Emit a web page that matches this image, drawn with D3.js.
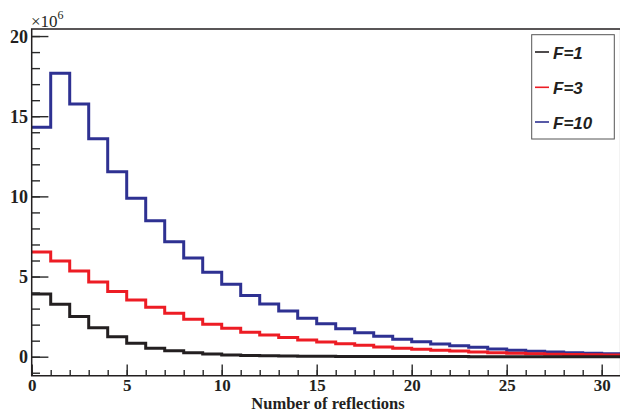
<!DOCTYPE html>
<html>
<head>
<meta charset="utf-8">
<script src="https://cdn.jsdelivr.net/npm/d3@7"></script>
<style>
  body { margin: 0; background: #fff; }
  svg { display: block; }
</style>
</head>
<body>
<div id="chart"></div>
<script>
// histogram bin low edges (width 1)
var binEdges = [0, 1, 2, 3, 4, 5, 6, 7, 8, 9, 10, 11, 12, 13, 14, 15, 16, 17, 18, 19, 20,
  21, 22, 23, 24, 25, 26, 27, 28, 29, 30];

// counts in units of 10^6
var countsF1 = [3.91, 3.27, 2.50, 1.81, 1.25, 0.84, 0.52, 0.37, 0.25, 0.17, 0.11, 0.08, 0.06,
  0.045, 0.035, 0.025, 0.02, 0.015, 0.012, 0.01, 0.008, 0.006, 0.005, 0.004, 0.003, 0.003,
  0.002, 0.002, 0.001, 0.001, 0.001];
var countsF3 = [6.53, 5.97, 5.35, 4.66, 4.06, 3.54, 3.08, 2.71, 2.33, 2.02, 1.77, 1.52, 1.35,
  1.19, 1.04, 0.91, 0.81, 0.71, 0.61, 0.52, 0.46, 0.40, 0.35, 0.29, 0.25, 0.22, 0.19, 0.16,
  0.14, 0.12, 0.10];
var countsF10 = [14.31, 17.68, 15.76, 13.6, 11.54, 9.88, 8.48, 7.17, 6.15, 5.26, 4.52, 3.81,
  3.29, 2.85, 2.40, 2.05, 1.75, 1.50, 1.27, 1.09, 0.94, 0.79, 0.68, 0.59, 0.48, 0.40, 0.34,
  0.29, 0.25, 0.21, 0.19];

var seriesNames = ["F=1", "F=3", "F=10"];
var seriesColors = ["#231f20", "#ed1c24", "#2e3192"];
var xTickValues = [0, 5, 10, 15, 20, 25, 30];
var yTickValues = [0, 5, 10, 15, 20];

var svgWidth = 620;
var svgHeight = 413;

var svg = d3.select("#chart")
  .append("svg")
  .attr("width", svgWidth)
  .attr("height", svgHeight);

var xScale = d3.scaleLinear()
  .domain([0, 31])
  .range([31.7, 620.7]);

var yScale = d3.scaleLinear()
  .domain([-1.185, 20.44])
  .range([375.7, 29]);

var x0 = xScale.range()[0], x1 = xScale.range()[1];
var yBot = yScale.range()[0], yTop = yScale.range()[1];

svg.append("clipPath").attr("id", "plotclip")
  .append("rect")
  .attr("x", x0).attr("y", yTop)
  .attr("width", x1 - x0).attr("height", yBot - yTop);

// histograms as step lines
var allSeries = [countsF1, countsF3, countsF10];
var stepLine = d3.line()
  .x(d => xScale(d[0]))
  .y(d => yScale(d[1]))
  .curve(d3.curveStepAfter);

var plot = svg.append("g").attr("clip-path", "url(#plotclip)");
// draw blue first, black last as in the reference
[2, 1, 0].forEach(function(s) {
  var vals = allSeries[s];
  var pts = binEdges.map((b, i) => [b, vals[i]]);
  pts.push([binEdges[binEdges.length - 1] + 1, vals[vals.length - 1]]);
  plot.append("path")
    .datum(pts)
    .attr("d", stepLine)
    .attr("fill", "none")
    .attr("stroke", seriesColors[s])
    .attr("stroke-width", 3);
});

// axes (ROOT style: inward ticks, major + minor)
var xMinor = d3.axisBottom(xScale)
  .tickValues(binEdges.concat([31]))
  .tickSize(-5.7)
  .tickFormat("");
var xMajor = d3.axisBottom(xScale)
  .tickValues(xTickValues)
  .tickSize(-11.3)
  .tickPadding(0)
  .tickFormat(d3.format("d"));

var gxMinor = svg.append("g")
  .attr("transform", `translate(0, ${yBot})`)
  .call(xMinor);
var gx = svg.append("g")
  .attr("transform", `translate(0, ${yBot})`)
  .call(xMajor);

var yMinorTicks = [-1, 0, 1, 2, 3, 4, 5, 6, 7, 8, 9, 10, 11, 12, 13, 14, 15, 16, 17, 18, 19, 20];
var yMinor = d3.axisLeft(yScale)
  .tickValues(yMinorTicks)
  .tickSize(-8.3)
  .tickFormat("");
var yMajor = d3.axisLeft(yScale)
  .tickValues(yTickValues)
  .tickSize(-16.7)
  .tickPadding(0)
  .tickFormat(d3.format("d"));

var gyMinor = svg.append("g")
  .attr("transform", `translate(${x0}, 0)`)
  .call(yMinor);
var gy = svg.append("g")
  .attr("transform", `translate(${x0}, 0)`)
  .call(yMajor);

[gxMinor, gx, gyMinor, gy].forEach(function(g) {
  g.select(".domain").remove();
  g.selectAll(".tick line").attr("stroke", "#2a2a2a").attr("stroke-width", 1.4);
});

gx.selectAll(".tick text")
  .attr("y", 390.5 - yBot)
  .attr("dy", 0)
  .attr("font-family", "'Liberation Serif', 'DejaVu Serif', serif")
  .attr("font-weight", "bold")
  .attr("font-size", "17px")
  .attr("fill", "#231f20");

gy.selectAll(".tick text")
  .attr("x", 28 - x0)
  .attr("dy", "0.34em")
  .attr("text-anchor", "end")
  .attr("font-family", "'Liberation Serif', 'DejaVu Serif', serif")
  .attr("font-weight", "bold")
  .attr("font-size", "18px")
  .attr("fill", "#231f20");

// frame
svg.append("path")
  .attr("d", `M${x0},${yTop}H${x1}V${yBot}H${x0}Z`)
  .attr("fill", "none")
  .attr("stroke", "#231f20")
  .attr("stroke-width", 1.5);

// axis title
svg.append("text")
  .attr("x", 328)
  .attr("y", 409.3)
  .attr("text-anchor", "middle")
  .attr("font-family", "'Liberation Serif', 'DejaVu Serif', serif")
  .attr("font-weight", "bold")
  .attr("font-size", "16.5px")
  .attr("fill", "#231f20")
  .text("Number of reflections");

// exponent label
var expo = svg.append("text")
  .attr("x", 31)
  .attr("y", 26.7)
  .attr("font-family", "'Liberation Serif', 'DejaVu Serif', serif")
  .attr("font-size", "17px")
  .attr("fill", "#231f20");
expo.append("tspan").text("\u00d710");
expo.append("tspan")
  .attr("font-size", "12px")
  .attr("dy", -8)
  .text("6");

// legend
var legend = svg.append("g");
legend.append("rect")
  .attr("x", 531.7)
  .attr("y", 34.7)
  .attr("width", 82.6)
  .attr("height", 104.3)
  .attr("fill", "#fff")
  .attr("stroke", "#555")
  .attr("stroke-width", 1);

var legendY = [52, 87.3, 122];
seriesNames.forEach(function(name, i) {
  legend.append("line")
    .attr("x1", 535).attr("x2", 549)
    .attr("y1", legendY[i]).attr("y2", legendY[i])
    .attr("stroke", seriesColors[i])
    .attr("stroke-width", 1.6);
  legend.append("text")
    .attr("x", 553)
    .attr("y", legendY[i] + 6.5)
    .attr("font-family", "'Liberation Sans', Arial, sans-serif")
    .attr("font-weight", "bold")
    .attr("font-style", "italic")
    .attr("font-size", "17px")
    .attr("fill", "#231f20")
    .text(name);
});
</script>
</body>
</html>
